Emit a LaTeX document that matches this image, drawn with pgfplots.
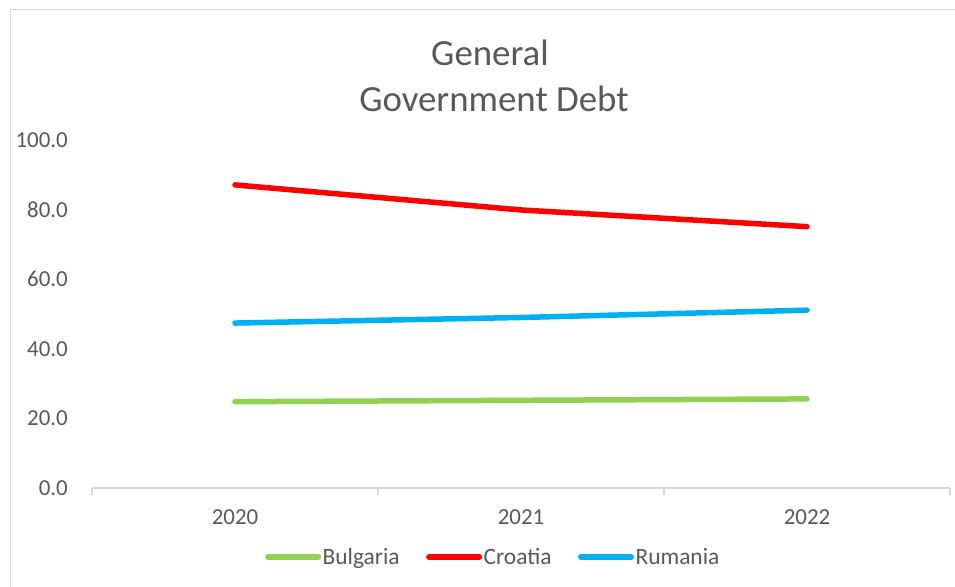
\documentclass[border=0pt]{standalone}
\usepackage{fontspec}
\setmainfont{Carlito}
\usepackage{pgfplots}
\pgfplotsset{compat=1.18}
\definecolor{txtgray}{HTML}{595959}
\definecolor{axgray}{HTML}{D9D9D9}
\definecolor{cgreen}{HTML}{92D050}
\definecolor{cred}{HTML}{FF0000}
\definecolor{cblue}{HTML}{00B0F0}
\begin{document}
\begin{tikzpicture}
\useasboundingbox (0bp,0bp) rectangle (955bp,587bp);
\fill[white] (0bp,0bp) rectangle (955bp,587bp);
% chart frame
\draw[axgray, line width=1.3bp] (10.5bp,0bp) -- (10.5bp,577.5bp) -- (956bp,577.5bp);
% title
\node[anchor=base, text=txtgray, font=\fontsize{37}{44}\selectfont, inner sep=0pt] at (490bp,521bp) {General};
\node[anchor=base, text=txtgray, font=\fontsize{37}{44}\selectfont, inner sep=0pt] at (494bp,475bp) {Government Debt};
\begin{axis}[
  at={(92bp,99bp)}, anchor=south west,
  scale only axis, width=858bp, height=348bp,
  xmin=-0.5, xmax=2.5, ymin=0, ymax=100,
  axis x line*=bottom,
  axis y line*=left,
  y axis line style={draw=none},
  x axis line style={axgray, line width=1.3bp, -},
  xtick={0,1,2},
  xticklabels={2020,2021,2022},
  minor xtick={-0.5,0.5,1.5,2.5},
  major tick length=0pt,
  minor tick length=7bp,
  tick align=outside,
  minor tick style={axgray, line width=1.3bp},
  ytick={0,20,40,60,80,100},
  /pgf/number format/fixed,
  /pgf/number format/fixed zerofill,
  /pgf/number format/precision=1,
  /pgf/number format/assume math mode=true,
  ticklabel style={font=\fontsize{23}{27}\selectfont, text=txtgray},
  xticklabel style={inner sep=0pt, anchor=north, yshift=-21bp},
  yticklabel style={inner sep=0pt, anchor=east, xshift=-24bp},
  clip=false,
  legend columns=3,
  legend style={at={(0.4674,-0.198)}, anchor=center, draw=none, fill=none,
    font=\fontsize{23.5}{28}\selectfont, text=txtgray,
    nodes={inner sep=1.5bp},
    /tikz/every even column/.style={column sep=25bp}},
  legend image code/.code={\draw[#1, line width=5.5bp, line cap=round] (3bp,0bp) -- (53.5bp,0bp);},
  every axis plot/.append style={line width=5.5bp, line cap=round, line join=round, mark=none},
]
\addplot[cgreen] coordinates {(0,24.8) (1,25.2) (2,25.6)};
\addlegendentry{Bulgaria}
\addplot[cred] coordinates {(0,87.1) (1,79.9) (2,75.1)};
\addlegendentry{Croatia}
\addplot[cblue] coordinates {(0,47.4) (1,49.0) (2,51.1)};
\addlegendentry{Rumania}
\end{axis}
\end{tikzpicture}
\end{document}
